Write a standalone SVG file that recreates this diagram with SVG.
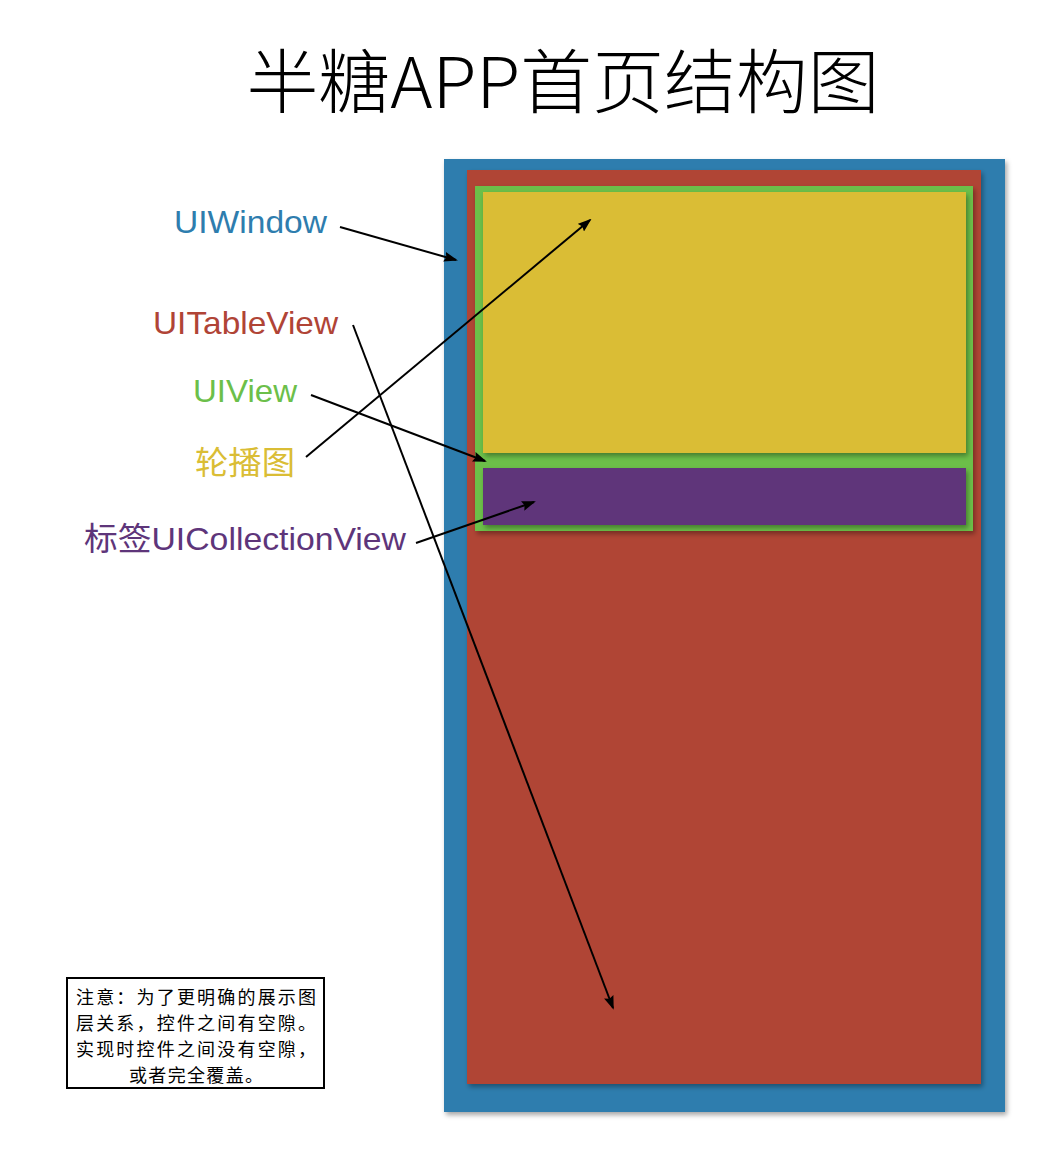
<svg xmlns="http://www.w3.org/2000/svg" width="1058" height="1164" viewBox="0 0 1058 1164">
<style>
.lbl{font-family:"Liberation Sans","Noto Sans CJK SC",sans-serif;font-size:32px;}
.note{font-family:"Noto Sans CJK SC",sans-serif;font-size:18px;fill:#000;text-anchor:middle;}
.arr{stroke:#000;stroke-width:2;fill:none;marker-end:url(#ah);}
</style>
<defs>
<marker id="ah" markerWidth="14" markerHeight="10" refX="12" refY="5" orient="auto" markerUnits="userSpaceOnUse">
<path d="M0,0 L14,5 L0,10 L2,5 Z" fill="#000"/>
</marker>
<filter id="sh" x="-5%" y="-5%" width="115%" height="115%">
<feDropShadow dx="2" dy="3" stdDeviation="2.5" flood-color="#000" flood-opacity="0.35"/>
</filter>
</defs>
<rect width="1058" height="1164" fill="#fff"/>
<text x="563" y="108" font-family="'Noto Sans CJK SC',sans-serif" font-size="70" font-weight="300" text-anchor="middle" fill="#000" textLength="633" lengthAdjust="spacingAndGlyphs">半糖APP首页结构图</text>

<g id="uiwindow"><rect x="444" y="159" width="561" height="953" fill="#2E7DAE" filter="url(#sh)"/></g>
<g id="uitableview"><rect x="467" y="170" width="514" height="914" fill="#B04436" filter="url(#sh)"/></g>
<g id="uiview"><rect x="475" y="186" width="498" height="345" fill="#6CBF4A" filter="url(#sh)"/></g>
<g id="banner"><rect x="483" y="192" width="483" height="261" fill="#DABD35" filter="url(#sh)"/></g>
<g id="tags"><rect x="483" y="468" width="483" height="57" fill="#5E357A" filter="url(#sh)"/></g>

<g id="labels">
<text class="lbl" x="174" y="233" fill="#2E7DAE" textLength="153" lengthAdjust="spacingAndGlyphs">UIWindow</text>
<text class="lbl" x="153" y="334" fill="#B04436" textLength="185" lengthAdjust="spacingAndGlyphs">UITableView</text>
<text class="lbl" x="193" y="402" fill="#6CBF4A" textLength="104" lengthAdjust="spacingAndGlyphs">UIView</text>
<text class="lbl" x="195" y="474" fill="#DABD35" textLength="100" lengthAdjust="spacingAndGlyphs">轮播图</text>
<text class="lbl" x="84" y="550" fill="#5E357A" textLength="322" lengthAdjust="spacingAndGlyphs">标签UICollectionView</text>
</g>

<g id="connectors">
<line class="arr" x1="340" y1="227" x2="456" y2="260"/>
<line class="arr" x1="353" y1="325" x2="613" y2="1008"/>
<line class="arr" x1="311" y1="395" x2="485" y2="461"/>
<line class="arr" x1="306" y1="457" x2="590" y2="220"/>
<line class="arr" x1="416" y1="543" x2="534" y2="502"/>
</g>

<g id="note">
<rect x="67" y="978" width="257" height="110" fill="#fff" stroke="#000" stroke-width="2"/>
<text class="note" x="196" y="1004" textLength="240" lengthAdjust="spacing">注意：为了更明确的展示图</text>
<text class="note" x="196" y="1030" textLength="240" lengthAdjust="spacing">层关系，控件之间有空隙。</text>
<text class="note" x="196" y="1056" textLength="240" lengthAdjust="spacing">实现时控件之间没有空隙，</text>
<text class="note" x="196" y="1082" textLength="134" lengthAdjust="spacing">或者完全覆盖。</text>
</g>
</svg>
